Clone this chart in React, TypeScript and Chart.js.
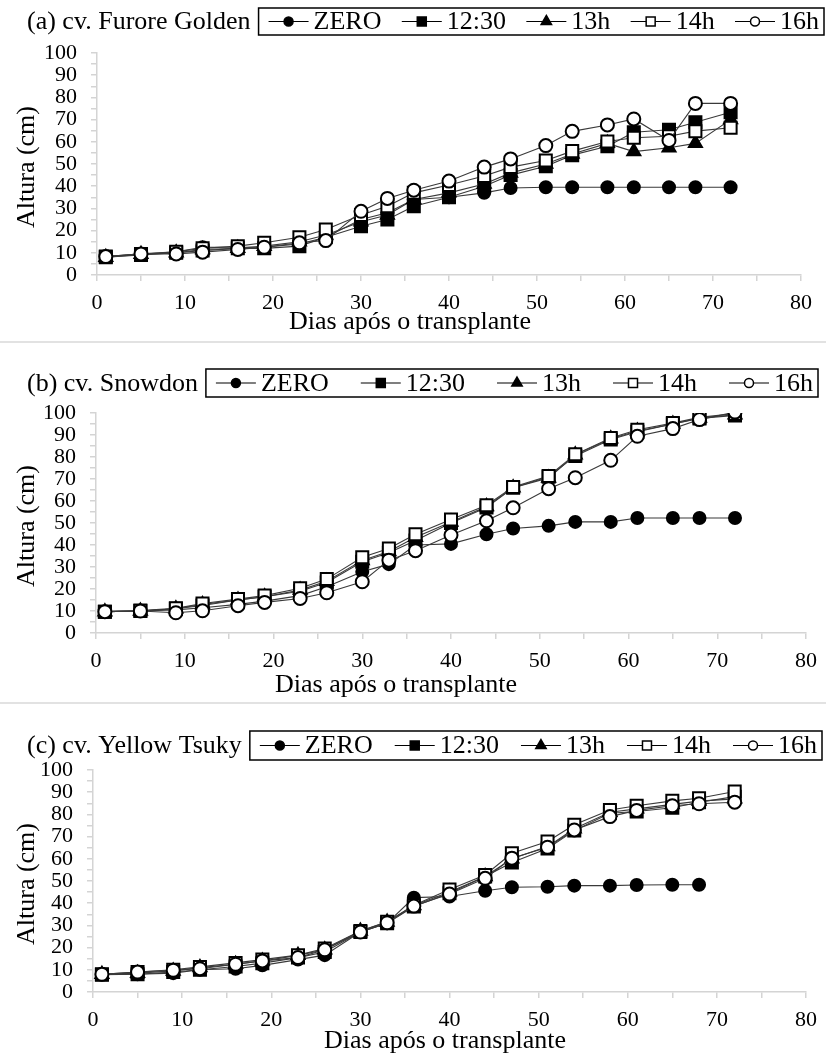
import React, { useEffect, useRef } from 'react';
import { Chart, registerables } from 'chart.js';

Chart.register(...registerables);

// ---------- data ----------
const days = [1, 5, 9, 12, 16, 19, 23, 26, 30, 33, 36, 40, 44, 47, 51, 54, 58, 61, 65, 68, 72];
const seriesNames = ['ZERO', '12:30', '13h', '14h', '16h'];
const xTickLabels = [0, 10, 20, 30, 40, 50, 60, 70, 80];
const yTickLabels = [0, 10, 20, 30, 40, 50, 60, 70, 80, 90, 100];
const xAxisTitle = 'Dias após o transplante';
const yAxisTitle = 'Altura (cm)';

// (a) cv. Furore Golden
const furoreZero = [8.3, 9.3, 10.5, 12.5, 12.5, 12.5, 14, 17, 25, 28, 34, 35, 37, 39.2, 39.5, 39.5, 39.5, 39.5, 39.5, 39.5, 39.5];
const furore1230 = [8, 9, 10, 11, 12, 12, 13, 17, 22, 25, 31, 35, 40, 45, 49, 54, 58, 64.3, 65.4, 68.8, 73.3];
const furore13h = [8, 9.3, 10, 11.5, 12, 13, 15, 18, 24, 27, 34, 37, 41, 46, 50, 54.5, 59.3, 55.6, 57.3, 59.3, 70];
const furore14h = [8.3, 9.5, 10.5, 12, 13, 14.5, 17, 20.5, 27, 31, 37, 40.5, 44.6, 48.6, 51.6, 55.8, 60.1, 61.8, 62.5, 64.8, 66.3];
const furore16h = [8.3, 9.5, 9.5, 10.3, 11.5, 12.5, 14.5, 15.5, 28.7, 34.5, 38.2, 42.3, 48.6, 52.3, 58.3, 64.7, 67.6, 70.3, 60.6, 77.3, 77.3];

// (b) cv. Snowdon
const snowZero = [9.7, 10, 10.5, 11.5, 13, 14.5, 17, 21, 27.8, 31.3, 40, 40.5, 44.9, 47.5, 48.7, 50.5, 50.5, 52.3, 52.3, 52.3, 52.3];
const snow1230 = [9.7, 10, 11, 12.5, 15, 16.5, 19, 23, 32.4, 36.5, 42, 50, 57, 66, 71, 80.5, 88, 91.5, 95, 97.5, 98.9];
const snow13h = [9.7, 10, 11, 13, 15, 16.5, 19.5, 23.5, 33, 37, 43.5, 50.5, 57.5, 66, 70.5, 81, 88.3, 91.8, 95, 97.7, 99.2];
const snow14h = [9.7, 10.2, 11.2, 13.4, 15.4, 17, 20.3, 24.5, 34.4, 38.4, 44.9, 51.6, 58.1, 66.4, 71.4, 81.2, 88.6, 92.4, 95.4, 98, 99.7];
const snow16h = [9.7, 10, 9.2, 10.1, 12.4, 13.9, 15.7, 18.3, 23.3, 33.1, 37.4, 44.5, 51, 56.9, 65.6, 70.6, 78.5, 89.4, 92.9, 97, 100.4];

// (c) cv. Yellow Tsuky
const tsukyZero = [8, 8, 8.5, 10, 10.5, 12, 14.6, 16.6, 27, 31, 42.5, 43, 45.6, 47.2, 47.4, 47.9, 47.9, 48.2, 48.3, 48.3, null];
const tsuky1230 = [7.8, 8, 9, 10, 11.5, 13, 15.5, 18, 27, 31, 38.5, 44.5, 52, 58.3, 64.6, 72.7, 80.5, 81.3, 83, 85.5, 88];
const tsuky13h = [8, 8.5, 9.5, 11, 12.5, 14, 16.5, 19, 27.5, 31.5, 39, 45, 52, 60, 65.5, 73.5, 81, 82.5, 84.5, 86, 87];
const tsuky14h = [8, 9, 10, 11.3, 13.1, 14.6, 16.6, 19.6, 27.5, 31.6, 39.1, 46.2, 52.7, 62.5, 67.8, 75.3, 82, 83.9, 86.1, 87.3, 90.3];
const tsuky16h = [8, 9, 9.8, 10.5, 12.5, 14, 15.5, 19, 27, 31.2, 38.7, 44.1, 51.2, 60.3, 65.2, 73, 79, 81.8, 83.9, 84.8, 85.5];

// ---------- styles ----------
const FONT = '"Liberation Serif", "Times New Roman", serif';
const markerKinds = [
  { style: 'circle', fill: '#000', radius: 6 },
  { style: 'rect', fill: '#000', radius: 8.5 },
  { style: 'triangle', fill: '#000', radius: 7.5 },
  { style: 'rect', fill: '#fff', radius: 8.5 },
  { style: 'circle', fill: '#fff', radius: 6.5 },
];

const W = 826;

const panels = [
  {
    title: '(a) cv. Furore Golden',
    series: [furoreZero, furore1230, furore13h, furore14h, furore16h],
    top: 0, height: 340,
    area: { l: 97, r: 801, t: 53, b: 275 },
    box: { top: 8, bottom: 35, right: 824 },
    xTitle: { x: 410, y: 322 },
  },
  {
    title: '(b) cv. Snowdon',
    series: [snowZero, snow1230, snow13h, snow14h, snow16h],
    top: 342, height: 360,
    area: { l: 96, r: 807, t: 413, b: 633 },
    box: { top: 369, bottom: 397, right: 818 },
    xTitle: { x: 396, y: 685 },
  },
  {
    title: '(c) cv. Yellow Tsuky',
    series: [tsukyZero, tsuky1230, tsuky13h, tsuky14h, tsuky16h],
    top: 704, height: 354,
    area: { l: 93, r: 809, t: 770, b: 992 },
    box: { top: 731, bottom: 760, right: 822 },
    xTitle: { x: 445, y: 1041 },
  },
];

function drawLegendMarker(ctx: CanvasRenderingContext2D, kind: number, x: number, y: number) {
  const m = markerKinds[kind];
  ctx.save();
  ctx.fillStyle = m.fill;
  ctx.strokeStyle = '#000';
  ctx.lineWidth = 1.5;
  ctx.beginPath();
  if (m.style === 'circle') {
    ctx.arc(x, y, 4.5, 0, Math.PI * 2);
  } else if (m.style === 'rect') {
    ctx.rect(x - 4.5, y - 4.5, 9, 9);
  } else {
    const r = 6;
    ctx.moveTo(x, y - r);
    ctx.lineTo(x + r * Math.sin(2 * Math.PI / 3), y - r * Math.cos(2 * Math.PI / 3));
    ctx.lineTo(x + r * Math.sin(4 * Math.PI / 3), y - r * Math.cos(4 * Math.PI / 3));
    ctx.closePath();
  }
  ctx.fill();
  ctx.stroke();
  ctx.restore();
}

const decoPlugin = {
  id: 'deco',
  afterDraw(chart: any, _args: any, opts: any) {
    const p = opts.panel;
    if (!p) return;
    const ctx: CanvasRenderingContext2D = chart.ctx;
    const off = p.top;
    ctx.save();
    ctx.fillStyle = '#000';
    ctx.textBaseline = 'middle';
    ctx.textAlign = 'left';
    ctx.font = `26px ${FONT}`;
    const boxTop = p.box.top - off;
    const boxBottom = p.box.bottom - off;
    const boxMid = (boxTop + boxBottom) / 2;
    const titleX = 27;
    ctx.fillText(p.title, titleX, boxMid + 1);
    const tw = ctx.measureText(p.title).width;
    const boxLeft = titleX + tw + 8;
    const boxRight = p.box.right;

    // legend box
    ctx.strokeStyle = '#000';
    ctx.lineWidth = 1.5;
    ctx.strokeRect(boxLeft, boxTop, boxRight - boxLeft, boxBottom - boxTop);

    ctx.font = `26px ${FONT}`;
    const lineLen = 40;
    const gapLT = 5;
    const widths = seriesNames.map((n) => lineLen + gapLT + ctx.measureText(n).width);
    const total = widths.reduce((a, b) => a + b, 0);
    const padL = 10;
    const padR = 5;
    const gap = (boxRight - boxLeft - padL - padR - total) / (seriesNames.length - 1);
    let x = boxLeft + padL;
    seriesNames.forEach((name, i) => {
      ctx.strokeStyle = '#000';
      ctx.lineWidth = 1.2;
      ctx.beginPath();
      ctx.moveTo(x, boxMid);
      ctx.lineTo(x + lineLen, boxMid);
      ctx.stroke();
      drawLegendMarker(ctx, i, x + lineLen / 2, boxMid);
      ctx.fillStyle = '#000';
      ctx.fillText(name, x + lineLen + gapLT, boxMid + 1);
      x += widths[i] + gap;
    });

    // x axis title
    ctx.textAlign = 'center';
    ctx.font = `26px ${FONT}`;
    ctx.fillText(xAxisTitle, p.xTitle.x, p.xTitle.y - off);

    // y axis title
    const ca = chart.chartArea;
    ctx.translate(27, (ca.top + ca.bottom) / 2 + 3);
    ctx.rotate(-Math.PI / 2);
    ctx.fillText(yAxisTitle, 0, 0);
    ctx.restore();
  },
};

function Panel({ panel }: { panel: any }) {
  const ref = useRef<HTMLCanvasElement | null>(null);
  useEffect(() => {
    if (!ref.current) return;
    const H = panel.height;
    const a = panel.area;
    const chart = new Chart(ref.current, {
      type: 'line',
      data: {
        datasets: panel.series.map((vals: (number | null)[], i: number) => ({
          label: seriesNames[i],
          data: days
            .map((d, j) => ({ x: d, y: vals[j] }))
            .filter((pt) => pt.y !== null && pt.y !== undefined),
          borderColor: '#3a3a3a',
          borderWidth: 1.1,
          pointStyle: markerKinds[i].style,
          pointRadius: markerKinds[i].radius,
          pointBackgroundColor: markerKinds[i].fill,
          pointBorderColor: '#000',
          pointBorderWidth: 2,
          tension: 0,
          fill: false,
          order: 4 - i,
        })),
      },
      options: {
        responsive: false,
        animation: false,
        devicePixelRatio: 1,
        layout: {
          padding: { top: a.t - panel.top, right: W - a.r, bottom: 0, left: 0 },
        },
        plugins: {
          legend: { display: false },
          tooltip: { enabled: false },
          title: { display: false },
          deco: { panel },
        } as any,
        scales: {
          x: {
            type: 'linear',
            min: 0,
            max: 80,
            afterFit: (s: any) => {
              s.height = H - (a.b - panel.top);
            },
            ticks: {
              stepSize: 5,
              autoSkip: false,
              maxRotation: 0,
              padding: 9,
              color: '#000',
              font: { family: FONT, size: 22 },
              callback: (v: any) => (xTickLabels.includes(Number(v)) ? String(v) : ''),
            },
            grid: { drawOnChartArea: false, color: '#d4d4d4', tickLength: 6, lineWidth: 1.5 },
            border: { color: '#d4d4d4', width: 1.5 },
          },
          y: {
            min: 0,
            max: 100,
            afterFit: (s: any) => {
              s.width = a.l;
            },
            ticks: {
              stepSize: 5,
              autoSkip: false,
              padding: 14,
              color: '#000',
              font: { family: FONT, size: 22 },
              callback: (v: any) => (yTickLabels.includes(Number(v)) ? String(v) : ''),
            },
            grid: { drawOnChartArea: false, color: '#d4d4d4', tickLength: 6, lineWidth: 1.5 },
            border: { color: '#d4d4d4', width: 1.5 },
          },
        } as any,
      },
      plugins: [decoPlugin as any],
    });
    return () => chart.destroy();
  }, [panel]);
  return (
    <canvas
      ref={ref}
      width={W}
      height={panel.height}
      style={{ position: 'absolute', left: 0, top: panel.top, width: W, height: panel.height, display: 'block' }}
    />
  );
}

export default function App() {
  return (
    <div style={{ position: 'absolute', left: 0, top: 0, width: W, height: 1058, background: '#fff', overflow: 'hidden' }}>
      {panels.map((p, i) => (
        <Panel key={i} panel={p} />
      ))}
      <div style={{ position: 'absolute', left: 0, top: 341, width: W, height: 2, background: '#e2e2e2' }} />
      <div style={{ position: 'absolute', left: 0, top: 702, width: W, height: 2, background: '#e2e2e2' }} />
    </div>
  );
}
